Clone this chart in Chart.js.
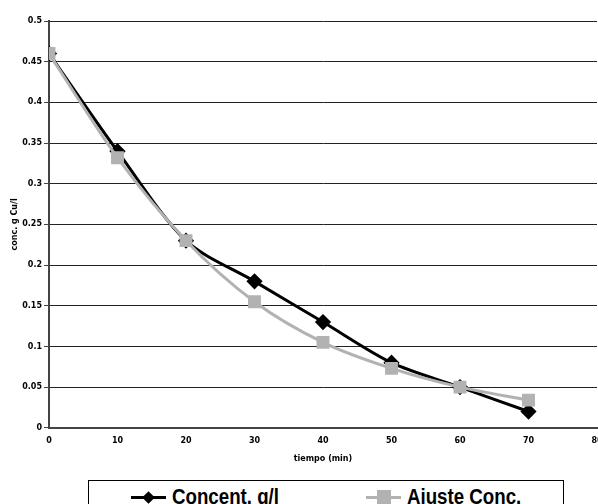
<!DOCTYPE html>
<html>
<head>
<meta charset="utf-8">
<script src="https://cdn.jsdelivr.net/npm/chart.js@4.4.0/dist/chart.umd.min.js"></script>
<style>
    html, body { margin: 0; padding: 0; background: #fff; }
    #wrap { position: relative; width: 598px; height: 504px; overflow: hidden; }
    #chart { position: absolute; left: 0; top: 0; }
    #legend {
        position: absolute; left: 88px; top: 480px; width: 476px; height: 40px;
        border: 1px solid #000; box-sizing: border-box; background: #fff;
        font-family: 'Liberation Sans', Arial, sans-serif;
        font-weight: bold; font-size: 22px; color: #000;
    }
    .item { position: absolute; top: 3px; height: 26px; display: flex; align-items: center; }
    .sym { position: relative; width: 35px; height: 26px; margin-right: 6px; flex: none; }
    .sym .ln { position: absolute; left: 0; right: 0; top: 12px; height: 3px; }
    .sym .mk { position: absolute; left: 50%; top: 50%; }
    .item span { display: inline-block; transform: scaleX(0.85); transform-origin: left center; white-space: nowrap; }
</style>
</head>
<body>
<div id="wrap">
    <!-- canvas a bit wider than the window so the "80" label gets cut at the edge -->
    <canvas id="chart" width="607" height="504"></canvas>
    <div id="legend"></div>
</div>
<script>
/* ---------- data ---------- */
const tiempos = [0, 10, 20, 30, 40, 50, 60, 70];
const concent = [0.46, 0.34, 0.23, 0.18, 0.13, 0.08, 0.05, 0.02];
const ajuste = [0.46, 0.332, 0.23, 0.155, 0.105, 0.073, 0.05, 0.034];
const seriesNames = ['Concent. g/l', 'Ajuste Conc.'];
const seriesColors = ['#000000', '#b2b2b2'];
const xTitle = 'tiempo (min)';
const yTitle = 'conc. g Cu/l';

const tickFont = { family: "'DejaVu Sans', Verdana, sans-serif", size: 8, weight: 'bold' };
const titleFont = { family: "'DejaVu Sans', Verdana, sans-serif", size: 8, weight: 'bold' };

function toPoints(values) {
    return tiempos.map((t, i) => ({ x: t, y: values[i] }));
}

new Chart(document.getElementById('chart'), {
    type: 'line',
    data: {
        datasets: [
            {
                label: seriesNames[0],
                data: toPoints(concent),
                borderColor: seriesColors[0],
                backgroundColor: seriesColors[0],
                borderWidth: 3,
                tension: 0.3,
                pointStyle: 'rectRot',
                pointRadius: 6,
                order: 2
            },
            {
                label: seriesNames[1],
                data: toPoints(ajuste),
                borderColor: seriesColors[1],
                backgroundColor: seriesColors[1],
                borderWidth: 3,
                tension: 0.3,
                pointStyle: 'rect',
                pointRadius: 7,
                order: 1
            }
        ]
    },
    options: {
        responsive: false,
        animation: false,
        layout: { padding: { top: 21, left: 0, right: 0, bottom: 40 } },
        plugins: {
            legend: { display: false },
            tooltip: { enabled: false }
        },
        scales: {
            x: {
                type: 'linear',
                min: 0,
                max: 80,
                ticks: { stepSize: 10, color: '#000', font: tickFont, padding: 4 },
                grid: { display: false, drawOnChartArea: false, drawTicks: true, tickLength: 4, tickColor: '#444', tickWidth: 1 },
                border: { color: '#444', width: 2 },
                title: {
                    display: true, text: xTitle, color: '#000', font: titleFont,
                    padding: { top: 5, bottom: 0 }
                }
            },
            y: {
                min: 0,
                max: 0.5,
                ticks: {
                    stepSize: 0.05, color: '#000', font: tickFont, padding: 2,
                    callback: v => String(Number(v.toFixed(2)))
                },
                grid: { color: '#222', lineWidth: 1, tickLength: 5, tickColor: '#444' },
                border: { color: '#444', width: 2 },
                title: {
                    display: true, text: yTitle, color: '#000', font: titleFont,
                    padding: { top: 10, bottom: 2 }
                },
                afterFit: scale => { scale.width = 49; scale.paddingTop = 0; scale.paddingBottom = 0; }
            }
        }
    }
});

/* ---------- legend (HTML) ---------- */
const legend = document.getElementById('legend');
const itemLeft = [42, 277];
seriesNames.forEach((name, i) => {
    const item = document.createElement('div');
    item.className = 'item';
    item.style.left = itemLeft[i] + 'px';
    const sym = document.createElement('div');
    sym.className = 'sym';
    const ln = document.createElement('div');
    ln.className = 'ln';
    ln.style.background = seriesColors[i];
    const mk = document.createElement('div');
    mk.className = 'mk';
    if (i === 0) {
        mk.style.cssText += 'width:9px;height:9px;margin:-4.5px 0 0 -4.5px;transform:rotate(45deg);background:' + seriesColors[i];
    } else {
        mk.style.cssText += 'width:14px;height:14px;margin:-7px 0 0 -7px;background:' + seriesColors[i];
    }
    sym.appendChild(ln);
    sym.appendChild(mk);
    const txt = document.createElement('span');
    txt.textContent = name;
    item.appendChild(sym);
    item.appendChild(txt);
    legend.appendChild(item);
});
</script>
</body>
</html>
